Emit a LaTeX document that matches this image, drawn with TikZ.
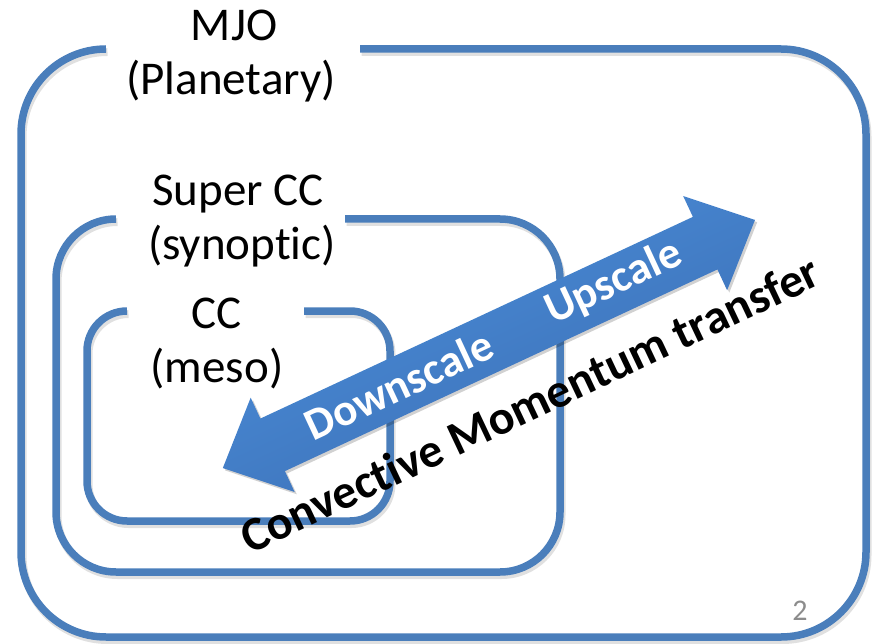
\documentclass[tikz,border=0pt]{standalone}
\usepackage{fontspec}
\setmainfont{Carlito}[Ligatures=NoCommon]
\definecolor{boxblue}{HTML}{4A7EBB}
\definecolor{arrowlight}{HTML}{4C8FDB}
\definecolor{arrowdark}{HTML}{3A6DB3}
\definecolor{numgray}{HTML}{8C8C8C}
\tikzset{
  boxline/.style={draw=boxblue, line width=7.5pt},
  boxshadow/.style={draw=black, opacity=0.12, line width=8pt},
  scalelabel/.style={font=\fontsize{47}{56}\selectfont, inner sep=0pt, anchor=base},
  arrowtext/.style={font=\bfseries\fontsize{45}{52}\selectfont, text=white, inner sep=0pt, rotate=25},
  cmtext/.style={font=\bfseries\fontsize{48}{56}\selectfont, text=black, inner sep=0pt, anchor=base, rotate=25.3}
}
\begin{document}
\begin{tikzpicture}[x=1pt,y=-1pt]
\useasboundingbox (0,0) rectangle (875,644);
% shadows
\begin{scope}[shift={(1.5,3)}]
\draw[boxshadow, rounded corners=85] (360,49) -- (866,49) -- (866,637) -- (21,637) -- (21,49) -- (106,49);
\draw[boxshadow, rounded corners=60] (345,219) -- (560,219) -- (560,572) -- (56,572) -- (56,219) -- (116,219);
\draw[boxshadow, rounded corners=40] (304,311) -- (390,311) -- (390,521) -- (87,521) -- (87,311) -- (127,311);
\end{scope}
% boxes
\draw[boxline, rounded corners=85] (360,49) -- (866,49) -- (866,637) -- (21,637) -- (21,49) -- (106,49);
\draw[boxline, rounded corners=60] (345,219) -- (560,219) -- (560,572) -- (56,572) -- (56,219) -- (116,219);
\draw[boxline, rounded corners=40] (304,311) -- (390,311) -- (390,521) -- (87,521) -- (87,311) -- (127,311);
% labels
\node[scalelabel] (mjo) at (234,41) {MJO};
\node[scalelabel] (planetary) at (231,95) {(Planetary)};
\node[scalelabel] (supercc) at (238,206) {Super CC};
\node[scalelabel] (synoptic) at (242,260) {(synoptic)};
\node[scalelabel] (cc) at (217,328) {CC};
\node[scalelabel] (meso) at (217,382) {(meso)};
% arrow
\begin{scope}[shift={(488.9,344)}, rotate=25]
\fill[black, opacity=0.18, shift={(1,3)}]
  (-293.6,0) -- (-238.6,52) -- (-238.6,29) -- (238.6,29) -- (238.6,52) -- (293.6,0)
  -- (238.6,-52) -- (238.6,-29) -- (-238.6,-29) -- (-238.6,-52) -- cycle;
\shade[top color=arrowlight, bottom color=arrowdark, shading angle=25]
  (-293.6,0) -- (-238.6,52) -- (-238.6,29) -- (238.6,29) -- (238.6,52) -- (293.6,0)
  -- (238.6,-52) -- (238.6,-29) -- (-238.6,-29) -- (-238.6,-52) -- cycle;
\end{scope}
\node[arrowtext] (down) at (399,385) {Downscale};
\node[arrowtext] (up) at (614,283) {Upscale};
\node[cmtext] (cmt) at (537,419) {Convective Momentum transfer};
\node[font=\fontsize{30}{36}\selectfont, text=numgray, inner sep=0pt, anchor=base] (pagenum) at (800,620) {2};
\end{tikzpicture}
\end{document}
